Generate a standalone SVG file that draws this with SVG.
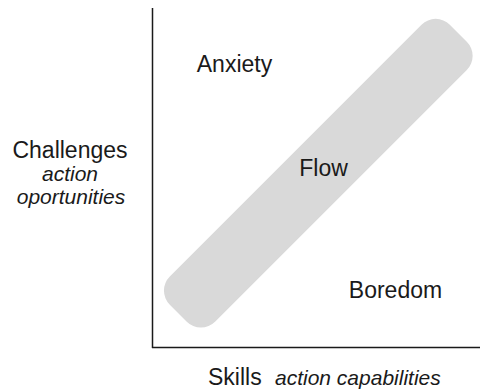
<svg xmlns="http://www.w3.org/2000/svg" width="480" height="392" viewBox="0 0 480 392">
<style>
.t{font-family:"Liberation Sans",Arial,sans-serif;font-size:23px;fill:#1a1a1a}
.i{font-family:"Liberation Sans",Arial,sans-serif;font-size:21px;font-style:italic;fill:#1a1a1a}
.ax{stroke:#1a1a1a;stroke-width:1.5;fill:none}
</style>
<rect width="480" height="392" fill="#ffffff"/>
<g id="axes">
<line class="ax" x1="152.5" y1="8" x2="152.5" y2="348"/>
<line class="ax" x1="152" y1="347.5" x2="480" y2="347.5"/>
</g>
<g id="flow">
<rect x="-199" y="-32" width="396" height="64" rx="20" fill="#d9d9d9" transform="translate(319,172.5) rotate(-45)"/>
<text class="t" x="323.5" y="176" text-anchor="middle">Flow</text>
</g>
<g id="anxiety"><text class="t" x="234.5" y="72" text-anchor="middle">Anxiety</text></g>
<g id="boredom"><text class="t" x="395.5" y="298" text-anchor="middle">Boredom</text></g>
<g id="challenges">
<text class="t" x="70" y="158" text-anchor="middle">Challenges</text>
<text class="i" x="70" y="181" text-anchor="middle">action</text>
<text class="i" x="71" y="204" text-anchor="middle">oportunities</text>
</g>
<g id="skills">
<text class="t" x="208" y="385">Skills</text>
<text class="i" x="275" y="385">action capabilities</text>
</g>
</svg>
